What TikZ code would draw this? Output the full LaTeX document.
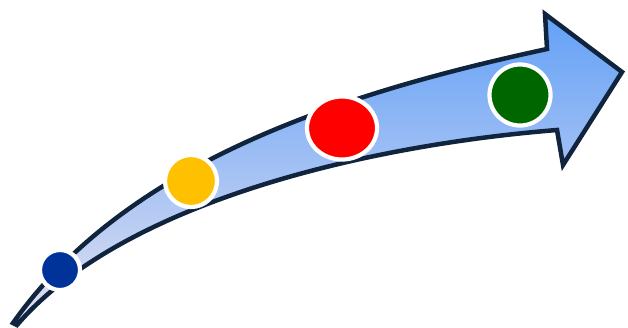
\documentclass[tikz,border=0pt]{standalone}
\usetikzlibrary{shapes.geometric}
\begin{document}
\begin{tikzpicture}[x=0.01cm,y=-0.01cm,
  outline/.style={draw=edgecol,line width=0.045cm,line join=miter},
  dot/.style={circle,draw=white,line width=0.042cm,inner sep=0pt}]
\definecolor{edgecol}{HTML}{10243E}
\definecolor{topblue}{HTML}{62A0F6}
\definecolor{botblue}{HTML}{E4E2F2}
\definecolor{dblue}{HTML}{003399}
\definecolor{dyellow}{HTML}{FFC000}
\definecolor{dred}{HTML}{FF0000}
\definecolor{dgreen}{HTML}{006600}
\useasboundingbox (0,0) rectangle (628,327);
\coordinate (tail) at (13,323);
\coordinate (ua) at (547,49);
\coordinate (notch) at (545,14);
\coordinate (tip) at (622,72);
\coordinate (hb) at (563,165);
\coordinate (lb) at (557,130);
\path[top color=topblue,bottom color=botblue,outline]
  (tail) .. controls (128,160) and (348,92) .. (ua)
  -- (notch) -- (tip) -- (hb) -- (lb)
  .. controls (358,146) and (120,205) .. (17,325) -- cycle;
\node[dot,fill=dblue,minimum size=0.40cm] (b) at (60,270) {};
\node[dot,fill=dyellow,minimum size=0.52cm] (y) at (191,181) {};
\node[dot,ellipse,fill=dred,minimum width=0.70cm,minimum height=0.63cm] (r) at (342,128) {};
\node[dot,fill=dgreen,minimum size=0.61cm] (g) at (520,95) {};
\end{tikzpicture}
\end{document}
